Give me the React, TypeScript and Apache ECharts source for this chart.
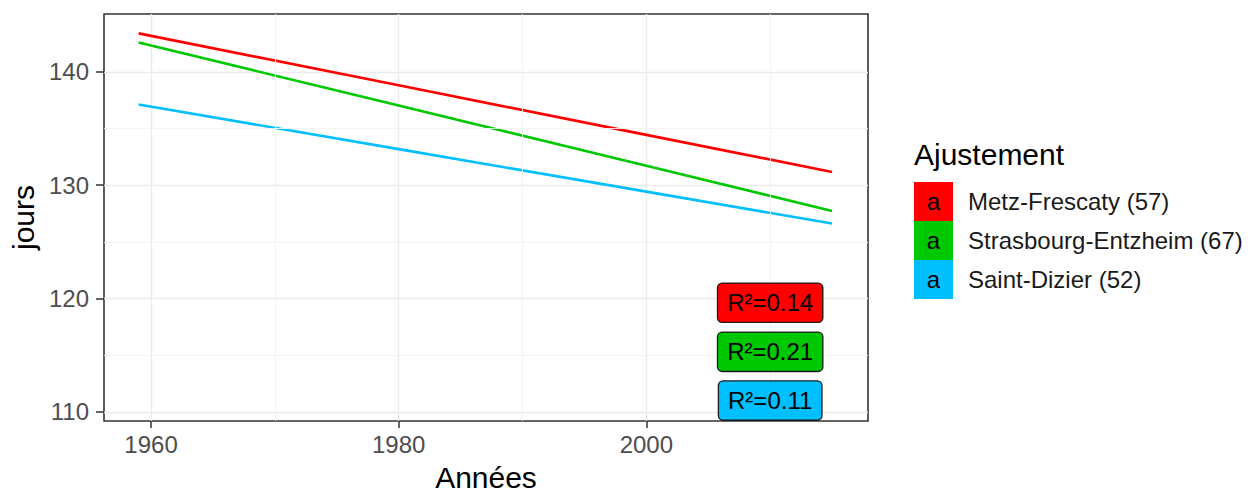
import React, { useEffect, useRef } from "react";
import * as echarts from "echarts";

const years = [1959, 1980, 2000, 2015];
const metz = [143.39, 138.81, 134.44, 131.17];
const strasbourg = [142.59, 137.02, 131.71, 127.73];
const saintDizier = [137.12, 133.18, 129.43, 126.62];

const seriesNames = ["Metz-Frescaty (57)", "Strasbourg-Entzheim (67)", "Saint-Dizier (52)"];
const seriesColors = ["#ff0000", "#00c800", "#00bfff"];

const r2Labels = ["R²=0.14", "R²=0.21", "R²=0.11"];
const r2X = [2010, 2010, 2010];
const r2Y = [119.63, 115.3, 111.0];

const xTicks = [1960, 1980, 2000];
const xMinor = [1970, 1990, 2010];
const yTicks = [110, 120, 130, 140];
const yMinor = [115, 125, 135];

const FONT = "'Liberation Sans', Arial, sans-serif";

export default function App() {
  const ref = useRef<HTMLDivElement>(null);
  useEffect(() => {
    if (!ref.current) return;
    const chart = echarts.init(ref.current, null, { renderer: "svg" });
    const allValues = [metz, strasbourg, saintDizier];
    const lineSeries = allValues.map((vals, i) => ({
      name: seriesNames[i],
      type: "line",
      data: years.map((y, j) => [y, vals[j]]),
      showSymbol: false,
      symbol: "none",
      lineStyle: { color: seriesColors[i], width: 2.6 },
      itemStyle: { color: seriesColors[i] },
      z: 3,
    }));
    const option = {
      animation: false,
      textStyle: { fontFamily: FONT },
      grid: {
        left: 104,
        right: 1255 - 868,
        top: 14,
        bottom: 492 - 421,
        outerBoundsMode: "none",
        containLabel: false,
        show: true,
        borderColor: "#333333",
        borderWidth: 1.6,
        backgroundColor: "#ffffff",
      },
      xAxis: {
        type: "value",
        min: 1956.2,
        max: 2017.9,
        name: "Années",
        nameLocation: "middle",
        nameGap: 41,
        nameTextStyle: { fontSize: 30, lineHeight: 30, color: "#000000", fontFamily: FONT },
        axisLine: { show: false },
        axisTick: { show: true, length: 7, lineStyle: { color: "#333333", width: 1.5 }, customValues: xTicks },
        axisLabel: {
          fontSize: 24,
          color: "#4d4d4d",
          margin: 11,
          customValues: xTicks,
          fontFamily: FONT,
          formatter: (v: number) => String(v),
        },
        splitLine: { show: true, lineStyle: { color: "#ebebeb", width: 1.4 } },
      },
      yAxis: {
        type: "value",
        min: 109.2,
        max: 145.1,
        name: "jours",
        nameLocation: "middle",
        nameGap: 62,
        nameRotate: 90,
        nameTextStyle: { fontSize: 30, color: "#000000", fontFamily: FONT },
        axisLine: { show: false },
        axisTick: { show: true, length: 8, lineStyle: { color: "#333333", width: 1.5 }, customValues: yTicks },
        axisLabel: {
          fontSize: 24,
          color: "#4d4d4d",
          margin: 15,
          customValues: yTicks,
          fontFamily: FONT,
          formatter: (v: number) => String(v),
        },
        splitLine: { show: true, lineStyle: { color: "#ebebeb", width: 1.4 } },
      },
      legend: {
        data: seriesNames,
        orient: "vertical",
        left: 914,
        top: 182,
        icon: "rect",
        itemWidth: 39,
        itemHeight: 39,
        itemGap: 0,
        padding: 0,
        textStyle: { fontSize: 24, color: "#1a1a1a", fontFamily: FONT, padding: [0, 0, 0, 10] },
        selectedMode: false,
      },
      graphic: [
        {
          type: "text",
          left: 914,
          top: 139,
          style: { text: "Ajustement", fontSize: 30, fill: "#000000", fontFamily: FONT },
        },
        ...seriesNames.map((_, i) => ({
          type: "text",
          x: 933.5,
          y: 201.5 + i * 39,
          z: 100,
          style: {
            text: "a",
            fontSize: 24,
            fill: "#000000",
            fontFamily: FONT,
            align: "center",
            verticalAlign: "middle",
          },
        })),
      ],
      series: [
        {
          name: "grid-minor",
          type: "line",
          data: [],
          z: 1,
          silent: true,
          markLine: {
            silent: true,
            symbol: ["none", "none"],
            label: { show: false },
            lineStyle: { color: "#f2f2f2", width: 0.9, type: "solid" },
            data: [
              ...xMinor.map((v) => ({ xAxis: v })),
              ...yMinor.map((v) => ({ yAxis: v })),
            ],
          },
        },
        ...lineSeries,
        {
          name: "R2",
          type: "scatter",
          symbolSize: 0,
          z: 5,
          silent: true,
          itemStyle: { opacity: 1 },
          data: r2Labels.map((t, i) => ({
            value: [r2X[i], r2Y[i]],
            itemStyle: { opacity: 1 },
            label: {
              show: true,
              position: "inside",
              formatter: t,
              fontSize: 24,
              color: "#000000",
              opacity: 1,
              fontFamily: FONT,
              backgroundColor: seriesColors[i],
              borderColor: "#1a1a1a",
              borderWidth: 1.3,
              borderRadius: 4,
              padding: [5, 9, 5, 9],
              lineHeight: 28,
            },
          })),
        },
      ],
    };
    chart.setOption(option as any);
    return () => chart.dispose();
  }, []);
  return (
    <div
      ref={ref}
      style={{ position: "fixed", left: 0, top: 0, width: 1255, height: 492, background: "#ffffff" }}
    />
  );
}
